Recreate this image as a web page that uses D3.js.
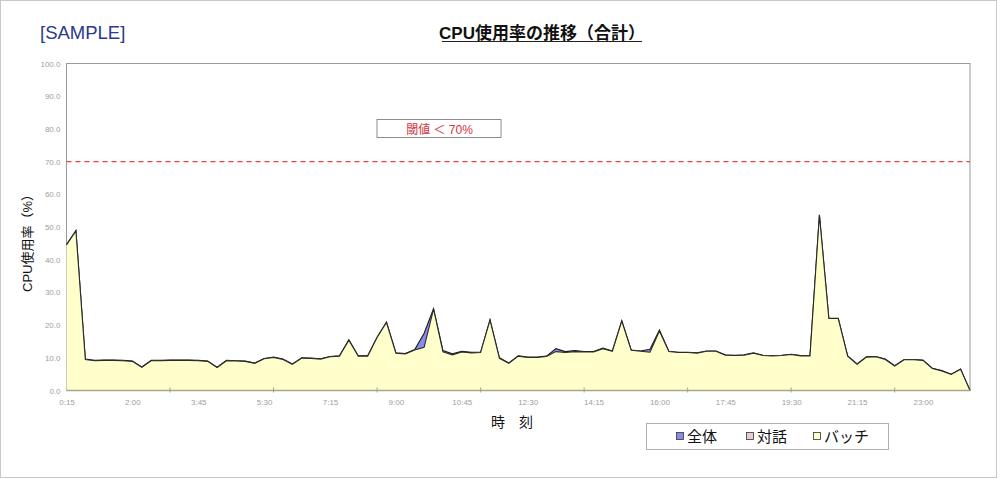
<!DOCTYPE html>
<html>
<head>
<meta charset="utf-8">
<script src="https://cdn.jsdelivr.net/npm/d3@7"></script>
<style>
  html, body { margin: 0; padding: 0; background: #fff; }
  svg { display: block; }
  text { font-family: "Liberation Sans", Arial, "Noto Sans CJK JP", sans-serif; }
  .jp { font-family: "Liberation Sans", "Noto Sans CJK JP", sans-serif; }
</style>
</head>
<body>
<svg id="chart" width="1000" height="479"></svg>
<script>
// ---- data ----
const categories = [
  "0:15","0:30","0:45","1:00","1:15","1:30","1:45","2:00","2:15","2:30","2:45","3:00","3:15","3:30","3:45","4:00",
  "4:15","4:30","4:45","5:00","5:15","5:30","5:45","6:00","6:15","6:30","6:45","7:00","7:15","7:30","7:45","8:00",
  "8:15","8:30","8:45","9:00","9:15","9:30","9:45","10:00","10:15","10:30","10:45","11:00","11:15","11:30","11:45","12:00",
  "12:15","12:30","12:45","13:00","13:15","13:30","13:45","14:00","14:15","14:30","14:45","15:00","15:15","15:30","15:45","16:00",
  "16:15","16:30","16:45","17:00","17:15","17:30","17:45","18:00","18:15","18:30","18:45","19:00","19:15","19:30","19:45","20:00",
  "20:15","20:30","20:45","21:00","21:15","21:30","21:45","22:00","22:15","22:30","22:45","23:00","23:15","23:30","23:45","24:00","24:15"
];
const batch = [
  44.5,48.8,9.5,9.1,9.2,9.2,9.1,8.9,7.1,9.1,9.1,9.2,9.2,9.2,9.1,8.9,
  7.0,9.1,9.0,8.9,8.3,9.7,10.1,9.5,8.0,9.9,9.8,9.6,10.3,10.5,15.4,10.5,
  10.5,16.2,20.8,11.4,11.2,12.4,13.2,24.9,11.8,10.9,11.8,11.5,11.6,21.5,9.8,8.3,
  10.5,10.1,10.1,10.4,11.9,11.6,11.9,11.8,11.8,12.8,12.0,21.2,12.3,12.0,11.7,18.2,
  11.9,11.6,11.6,11.4,12.0,12.0,10.8,10.7,10.8,11.4,10.7,10.6,10.7,11.0,10.6,10.6,
  53.6,22.0,22.0,10.5,8.0,10.2,10.3,9.5,7.5,9.4,9.4,9.2,6.7,6.0,4.9,6.5,0.0
];
const interactive = [
  0.1,0.1,0.1,0.1,0.1,0.1,0.1,0.1,0.1,0.1,0.1,0.1,0.1,0.1,0.1,0.1,
  0.1,0.1,0.1,0.1,0.1,0.1,0.1,0.1,0.1,0.1,0.1,0.1,0.1,0.1,0.1,0.1,
  0.1,0.1,0.1,0.1,0.1,0.1,4.3,0.1,0.4,0.3,0.2,0.2,0.1,0.1,0.2,0.1,
  0.1,0.1,0.1,0.1,0.9,0.3,0.3,0.1,0.1,0.2,0.1,0.1,0.1,0.1,0.9,0.3,
  0.1,0.1,0.1,0.1,0.1,0.1,0.1,0.1,0.1,0.1,0.1,0.1,0.1,0.1,0.1,0.1,
  0.1,0.1,0.1,0.1,0.1,0.1,0.1,0.1,0.1,0.1,0.1,0.1,0.1,0.1,0.1,0.1,0.0
];
const total = [
  44.6,48.9,9.6,9.2,9.3,9.3,9.2,9.0,7.2,9.2,9.2,9.3,9.3,9.3,9.2,9.0,
  7.1,9.2,9.1,9.0,8.4,9.8,10.2,9.6,8.1,10.0,9.9,9.7,10.4,10.6,15.5,10.6,
  10.6,16.3,20.9,11.5,11.3,12.5,17.5,25.0,12.2,11.2,12.0,11.7,11.7,21.6,10.0,8.4,
  10.6,10.2,10.2,10.5,12.8,11.9,12.2,11.9,11.9,13.0,12.1,21.3,12.4,12.1,12.6,18.5,
  12.0,11.7,11.7,11.5,12.1,12.1,10.9,10.8,10.9,11.5,10.8,10.7,10.8,11.1,10.7,10.7,
  53.7,22.1,22.1,10.6,8.1,10.3,10.4,9.6,7.6,9.5,9.5,9.3,6.8,6.1,5.0,6.6,0.0
];
const yTicks = [0,10,20,30,40,50,60,70,80,90,100];
const threshold = 70;
const seriesNames = ["全体","対話","バッチ"];
const seriesColors = ["#8a8aee","#e8cdd6","#ffffcc"];

// ---- layout ----
const svg = d3.select("#chart");
const plotLeft = 66.5, plotRight = 970, plotTop = 63.5, plotBottom = 390.5;

const x = d3.scalePoint().domain(categories).range([plotLeft, plotRight]);
const y = d3.scaleLinear().domain([0, 100]).range([plotBottom, plotTop]);

// outer frame
svg.append("rect").attr("x",0.5).attr("y",0.5).attr("width",996).attr("height",477)
  .attr("fill","#fff").attr("stroke","#c8c8c8");

// titles
svg.append("text").attr("x",40).attr("y",39).attr("font-size",18.5)
  .attr("fill","#2a3a8e").text("[SAMPLE]");
svg.append("text").attr("class","jp").attr("x",542).attr("y",38.5).attr("text-anchor","middle")
  .attr("font-size",17).attr("font-weight","bold").attr("fill","#111")
  .text("CPU使用率の推移（合計）");
svg.append("line").attr("x1",442).attr("x2",642).attr("y1",41.5).attr("y2",41.5)
  .attr("stroke","#222").attr("stroke-width",1);

// plot frame
svg.append("rect").attr("x",plotLeft).attr("y",plotTop).attr("width",plotRight-plotLeft).attr("height",plotBottom-plotTop)
  .attr("fill","#fff").attr("stroke","#9a9a9a").attr("stroke-width",1);

const idx = d3.range(categories.length);
const area = vals => d3.area().x(i => x(categories[i])).y0(y(0)).y1(i => y(vals[i]));
const line = vals => d3.line().x(i => x(categories[i])).y(i => y(vals[i]));

// series areas (overlapping, not stacked)
svg.append("path").datum(idx).attr("d", area(total)).attr("fill", seriesColors[0]);
svg.append("path").datum(idx).attr("d", line(total)).attr("fill","none")
  .attr("stroke","#1a1a1a").attr("stroke-width",1.1);
svg.append("path").datum(idx).attr("d", area(interactive)).attr("fill", seriesColors[1]);
svg.append("path").datum(idx).attr("d", area(batch)).attr("fill", seriesColors[2]);
svg.append("path").datum(idx).attr("d", line(batch)).attr("fill","none")
  .attr("stroke","#2a2a2a").attr("stroke-width",1.1);
// bottom axis line
svg.append("line").attr("x1",plotLeft).attr("x2",plotRight).attr("y1",plotBottom).attr("y2",plotBottom)
  .attr("stroke","#a6a68a").attr("stroke-width",1.5);

// threshold line
svg.append("line").attr("x1",plotLeft).attr("x2",plotRight).attr("y1",y(threshold)).attr("y2",y(threshold))
  .attr("stroke","#f04040").attr("stroke-width",1.4).attr("stroke-dasharray","5,4");

// threshold label box
svg.append("rect").attr("x",377).attr("y",119.5).attr("width",124).attr("height",18)
  .attr("fill","#fff").attr("stroke","#8c8c8c").attr("stroke-width",1);
svg.append("text").attr("class","jp").attr("x",439.5).attr("y",133.5).attr("text-anchor","middle")
  .attr("font-size",12).attr("fill","#d4333b").text("閾値 ＜ 70%");

// y axis labels
const yAxis = d3.axisLeft(y).tickValues(yTicks).tickSize(0).tickPadding(6).tickFormat(d3.format(".1f"));
const gy = svg.append("g").attr("transform",`translate(${plotLeft},0)`).call(yAxis);
gy.select(".domain").remove();
gy.selectAll("text").attr("font-size",8).attr("fill","#a0a0a0")
  .attr("font-family","Liberation Sans, Arial, sans-serif");

// x axis labels (every 7th category) and tick marks (every 11th)
const labelCats = categories.filter((c,i) => i % 7 === 0 && i <= 91);
const xAxis = d3.axisBottom(x).tickValues(labelCats).tickSize(0).tickPadding(9);
const gx = svg.append("g").attr("transform",`translate(0,${plotBottom})`).call(xAxis);
gx.select(".domain").remove();
gx.selectAll("text").attr("font-size",8).attr("fill","#a0a0a0")
  .attr("font-family","Liberation Sans, Arial, sans-serif");
const tickCats = categories.filter((c,i) => i % 11 === 0 && i > 0 && i < 96);
svg.append("g").selectAll("line").data(tickCats).join("line")
  .attr("x1", d => x(d)).attr("x2", d => x(d)).attr("y1", plotBottom-3).attr("y2", plotBottom+2)
  .attr("stroke","#a0a0a0").attr("stroke-width",1);

// axis titles
svg.append("text").attr("class","jp").attr("transform","translate(32,240) rotate(-90)")
  .attr("text-anchor","middle").attr("font-size",13).attr("fill","#111").text("CPU使用率（%）");
svg.append("text").attr("class","jp").attr("x",512).attr("y",427).attr("text-anchor","middle")
  .attr("font-size",14).attr("fill","#111").text("時　刻");

// legend
const lg = svg.append("g");
lg.append("rect").attr("x",646.5).attr("y",423.5).attr("width",242).attr("height",26)
  .attr("fill","#fff").attr("stroke","#b0b0b0").attr("stroke-width",1);
const legendX = [676, 746, 813];
seriesNames.forEach((name, k) => {
  lg.append("rect").attr("x",legendX[k]+0.5).attr("y",432.5).attr("width",7).attr("height",7)
    .attr("fill",seriesColors[k]).attr("stroke","#333").attr("stroke-width",0.8);
  lg.append("text").attr("class","jp").attr("x",legendX[k]+11).attr("y",442)
    .attr("font-size",15).attr("fill","#111").text(name);
});
</script>
</body>
</html>
